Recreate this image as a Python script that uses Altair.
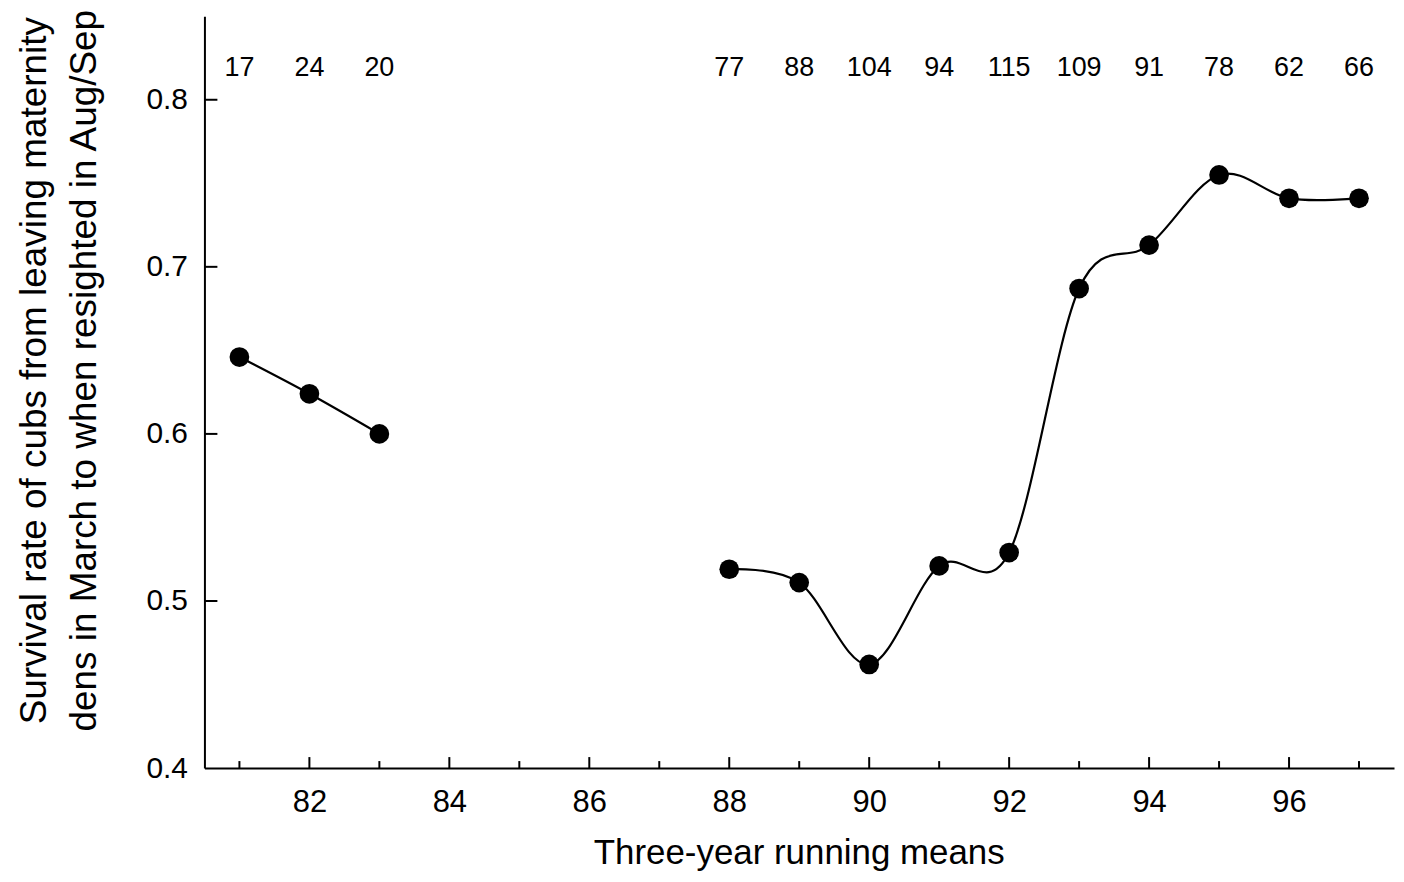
import altair as alt
import pandas as pd

# Data
years = [81, 82, 83, 88, 89, 90, 91, 92, 93, 94, 95, 96, 97]
survival = [0.646, 0.624, 0.600, 0.519, 0.511, 0.462, 0.521, 0.529, 0.687, 0.713, 0.755, 0.741, 0.741]
segment = ["a", "a", "a", "b", "b", "b", "b", "b", "b", "b", "b", "b", "b"]
counts = [17, 24, 20, 77, 88, 104, 94, 115, 109, 91, 78, 62, 66]

x_major = [82, 84, 86, 88, 90, 92, 94, 96]
x_minor = [81, 83, 85, 87, 89, 91, 93, 95, 97]
y_ticks = [0.5, 0.6, 0.7, 0.8]
y_labels = [0.4, 0.5, 0.6, 0.7, 0.8]

df = pd.DataFrame({"year": years, "surv": survival, "seg": segment, "n": counts})
df_major = pd.DataFrame({"year": x_major})
df_minor = pd.DataFrame({"year": x_minor})
df_yt = pd.DataFrame({"surv": y_ticks})

W, H = 1193, 754
FONT = "Liberation Sans, Arial, Helvetica, sans-serif"

xscale = alt.Scale(domain=[80.5, 97.5], nice=False, zero=False)
yscale = alt.Scale(domain=[0.4, 0.85], nice=False, zero=False)

x_axis = alt.Axis(
    values=x_major, format="d", ticks=False, grid=False,
    domainColor="black", domainWidth=2,
    labelFontSize=31, labelFont=FONT, labelColor="black", labelPadding=20,
    titleFontSize=35, titleFont=FONT,
    titleFontWeight="normal", titleColor="black",
    titleX=596, titleY=96, titleBaseline="alphabetic", titleAnchor="middle",
)
y_axis = alt.Axis(
    values=y_labels, format=".1f", ticks=False, grid=False,
    domainColor="black", domainWidth=2,
    labelFontSize=30, labelFont=FONT, labelColor="black", labelPadding=17,
    titleFontSize=37, titleFont=FONT, titleFontWeight="normal", titleColor="black",
    titleX=-159, titleY=355, titleBaseline="alphabetic", titleAngle=270,
    titleAlign="center", titleLineHeight=50,
)
x_title = "Three-year running means"
y_title = ["Survival rate of cubs from leaving maternity",
           "dens in March to when resighted in Aug/Sep"]

X = lambda: alt.X("year:Q", scale=xscale, axis=x_axis, title=x_title)
Y = lambda: alt.Y("surv:Q", scale=yscale, axis=y_axis, title=y_title)

base = alt.Chart(df)

line = base.mark_line(color="black", strokeWidth=2.2, interpolate="cardinal").encode(
    x=X(), y=Y(), detail="seg:N",
)
points = base.mark_point(filled=True, color="black", size=390, opacity=1, shape="circle").encode(
    x=X(), y=Y(),
)
labels = base.mark_text(fontSize=27, font=FONT, color="black", baseline="middle").encode(
    x=X(), y=alt.value(51.5), text="n:Q",
)
major = alt.Chart(df_major).mark_rule(color="black", strokeWidth=2).encode(
    x=X(), y=alt.value(H), y2=alt.value(H - 11),
)
minor = alt.Chart(df_minor).mark_rule(color="black", strokeWidth=2).encode(
    x=X(), y=alt.value(H), y2=alt.value(H - 7),
)
yt = alt.Chart(df_yt).mark_rule(color="black", strokeWidth=2).encode(
    y=Y(), x=alt.value(0), x2=alt.value(13),
)

chart = alt.layer(line, major, minor, yt, points, labels).properties(
    width=W, height=H,
    autosize=alt.AutoSizeParams(type="none"),
    padding={"left": 197, "top": 7, "right": 2, "bottom": 104},
    background="white",
).configure_view(stroke=None)

chart.save("out.html", embed_options={"renderer": "svg", "actions": False})
